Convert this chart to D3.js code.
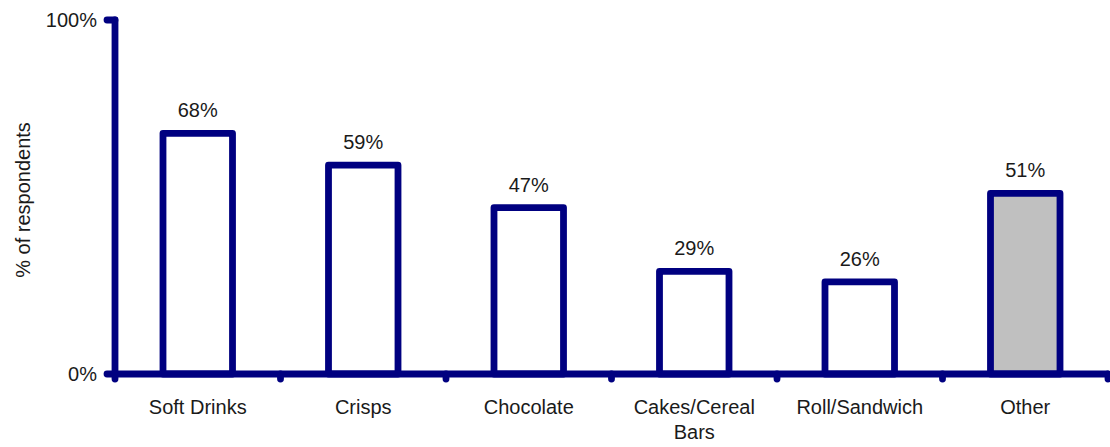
<!DOCTYPE html>
<html>
<head>
<meta charset="utf-8">
<script src="https://cdnjs.cloudflare.com/ajax/libs/d3/7.8.5/d3.min.js"></script>
<style>
  html, body { margin: 0; padding: 0; background: #fff; }
  svg text { font-family: "Liberation Sans", "Noto Sans", sans-serif; fill: #1a1a1a; }
</style>
</head>
<body>
<svg id="chart" width="1110" height="447"></svg>
<script>
// Snack purchases by category
const categories = ["Soft Drinks", "Crisps", "Chocolate", "Cakes/Cereal Bars", "Roll/Sandwich", "Other"];
const values = [68, 59, 47, 29, 26, 51];
const fills = ["#ffffff", "#ffffff", "#ffffff", "#ffffff", "#ffffff", "#c0c0c0"];
const yTicks = [0, 100];
const labelLines = [["Soft Drinks"], ["Crisps"], ["Chocolate"], ["Cakes/Cereal", "Bars"], ["Roll/Sandwich"], ["Other"]];

const navy = "#000080";
const fontSize = 20;
const lineW = 6.8;
const svg = d3.select("#chart");
const plotLeft = 115, plotRight = 1108, plotTop = 20, plotBottom = 374;

const x = d3.scaleBand().domain(categories).range([plotLeft, plotRight]).paddingInner(0.58).paddingOuter(0.29);
const y = d3.scaleLinear().domain([0, 100]).range([plotBottom, plotTop]);

// Bars
svg.append("g").selectAll("rect").data(categories).join("rect")
  .attr("x", d => x(d))
  .attr("y", (d, i) => y(values[i]))
  .attr("width", x.bandwidth())
  .attr("height", (d, i) => y(0) - y(values[i]))
  .attr("fill", (d, i) => fills[i])
  .attr("stroke", navy)
  .attr("stroke-width", lineW)
  .attr("stroke-linejoin", "round");

// Value labels
svg.append("g").selectAll("text").data(categories).join("text")
  .attr("x", d => x(d) + x.bandwidth() / 2)
  .attr("y", (d, i) => y(values[i]) - 16)
  .attr("text-anchor", "middle")
  .attr("font-size", fontSize)
  .text((d, i) => values[i] + "%");

// Axis lines with end stubs
const axisG = svg.append("g").attr("stroke", navy).attr("stroke-width", lineW).attr("stroke-linecap", "round").attr("fill", "none");
axisG.append("line").attr("x1", plotLeft).attr("x2", plotLeft).attr("y1", y(100)).attr("y2", y(0));
axisG.selectAll("line.ytick").data(yTicks).join("line").attr("class", "ytick")
  .attr("x1", plotLeft - 8).attr("x2", plotLeft).attr("y1", d => y(d)).attr("y2", d => y(d));

// X axis line with category boundary ticks
axisG.append("line").attr("x1", plotLeft).attr("x2", plotRight).attr("y1", y(0)).attr("y2", y(0));
const boundaries = d3.range(categories.length + 1).map(i => plotLeft + i * (plotRight - plotLeft) / categories.length);
axisG.selectAll("line.xtick").data(boundaries).join("line").attr("class", "xtick")
  .attr("x1", d => d).attr("x2", d => d).attr("y1", y(0)).attr("y2", y(0) + 5);

// Y tick labels
svg.append("g").selectAll("text").data(yTicks).join("text")
  .attr("x", plotLeft - 18)
  .attr("y", d => y(d))
  .attr("dy", "0.35em")
  .attr("text-anchor", "end")
  .attr("font-size", fontSize)
  .text(d => d + "%");

// Category labels
const catG = svg.append("g").selectAll("text").data(categories).join("text")
  .attr("x", d => x(d) + x.bandwidth() / 2)
  .attr("y", 414)
  .attr("text-anchor", "middle")
  .attr("font-size", fontSize);
catG.each(function(d, i) {
  const t = d3.select(this);
  labelLines[i].forEach((line, j) => {
    t.append("tspan").attr("x", x(d) + x.bandwidth() / 2).attr("dy", j === 0 ? 0 : 25).text(line);
  });
});

// Y axis title
svg.append("text")
  .attr("transform", "translate(30,200) rotate(-90)")
  .attr("text-anchor", "middle")
  .attr("font-size", fontSize)
  .text("% of respondents");
</script>
</body>
</html>
